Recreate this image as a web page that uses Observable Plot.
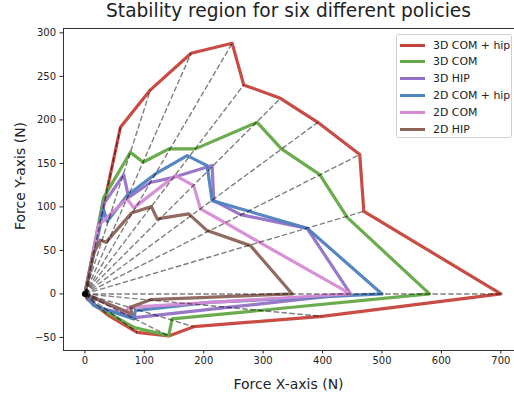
<!DOCTYPE html>
<html>
<head>
<meta charset="utf-8">
<script src="https://cdn.jsdelivr.net/npm/d3@7"></script>
<script src="https://cdn.jsdelivr.net/npm/@observablehq/plot@0.6"></script>
<style>
  html, body { margin: 0; padding: 0; background: white; overflow: hidden; }
  #wrap { position: relative; width: 514px; height: 400px; font-family: "DejaVu Sans", sans-serif; color: #222; }
  #title { position: absolute; left: 63px; width: 451px; top: 0px; text-align: center; font-size: 18.6px; }
  #xlabel { position: absolute; left: 63px; width: 451px; top: 376px; text-align: center; font-size: 14px; }
  #ylabel { position: absolute; left: 20px; top: 176px; transform: translate(-50%, -50%) rotate(-90deg); white-space: nowrap; font-size: 14px; }
  #legend { position: absolute; left: 396px; top: 34px; width: 116px; height: 104px; border: 1px solid #d0d0d0; border-radius: 3px; background: rgba(255,255,255,0.85); box-sizing: border-box; }
  .row { position: absolute; left: 3px; height: 14px; display: flex; align-items: center; font-size: 10.9px; white-space: nowrap; }
  .sw { width: 25px; height: 3px; margin-right: 8px; }
</style>
</head>
<body>
<div id="wrap">
  <div id="title">Stability region for six different policies</div>
  <div id="chart"></div>
  <div id="xlabel">Force X-axis (N)</div>
  <div id="ylabel">Force Y-axis (N)</div>
  <div id="legend"></div>
</div>
<script>
// Series names and colours (legend order = drawing order)
const seriesNames = ["3D COM + hip", "3D COM", "3D HIP", "2D COM + hip", "2D COM", "2D HIP"];
const seriesColors = ["#c5423a", "#62a845", "#9470c6", "#4e81bf", "#d68ad4", "#8b6358"];

// Vertices of each stability region (N)
const com3dHipX = [0, 59.8, 110.3, 178.8, 247.8, 267.3, 329.1, 391.9, 462.6, 469.4, 700, 399.3, 183.2, 141.1, 87.9, 40.1, 3.7, 0];
const com3dHipY = [0, 191.5, 234.5, 276.6, 288.0, 240.2, 224.8, 197.2, 160.1, 94.9, 0, -25.7, -37.6, -48.3, -44.1, -24.9, -5.7, 0];

const com3dX = [0, 31.6, 76.6, 98.0, 141.1, 186.0, 289.9, 330.8, 395.3, 441.4, 580, 293.3, 146.8, 141.1, 83.3, 17.7, 0];
const com3dY = [0, 110.7, 162.8, 151.3, 166.7, 166.7, 197.2, 166.7, 137.1, 88.0, 0, -19.0, -28.7, -47.9, -38.7, -13.4, 0];

const hip3dX = [0, 31.6, 65.3, 73.7, 110.0, 149.5, 214.1, 216.8, 261.8, 374.1, 447, 240.0, 87.9, 20.5, 0];
const hip3dY = [0, 103.4, 137.0, 111.0, 128.0, 134.0, 147.5, 107.2, 91.1, 75.4, 0, -15.5, -26.9, -15.4, 0];

const com2dHipX = [0, 31.6, 37.4, 71.0, 118.7, 172.1, 205.7, 214.1, 274.7, 374.1, 500, 208.6, 85.0, 82.2, 14.8, 0];
const com2dHipY = [0, 96.6, 83.1, 113.0, 137.9, 159.0, 147.5, 107.2, 95.2, 75.4, 0, -9.7, -19.2, -28.7, -13.4, 0];

const com2dX = [0, 22.7, 42.9, 71.0, 82.2, 152.4, 183.2, 194.4, 235.9, 294.1, 447, 73.8, 68.2, 0];
const com2dY = [0, 78.5, 91.7, 109.2, 98.9, 136.0, 124.5, 97.7, 82.0, 59.2, 0, -15.4, -21.1, 0];

const hip2dX = [0, 14.3, 26.1, 35.4, 78.3, 112.0, 121.5, 174.7, 205.7, 278.6, 349, 110.3, 76.6, 79.5, 0];
const hip2dY = [0, 46.3, 61.8, 59.3, 92.9, 100.3, 86.2, 92.0, 72.8, 55.5, 0, -6.6, -15.4, -23.0, 0];

// Axes
const xTicks = [0, 100, 200, 300, 400, 500, 600, 700];
const yTicks = [-50, 0, 50, 100, 150, 200, 250, 300];
const xDomain = [-36, 723];
const yDomain = [-65, 305];
const origin = {x: 0, y: 0};

const allX = [com3dHipX, com3dX, hip3dX, com2dHipX, com2dX, hip2dX];
const allY = [com3dHipY, com3dY, hip3dY, com2dHipY, com2dY, hip2dY];

const lineData = [];
seriesNames.forEach((name, i) => {
  allX[i].forEach((x, j) => lineData.push({series: name, x, y: allY[i][j], k: j}));
});

// Dashed rays from the origin to each vertex of the outermost region
const rays = com3dHipX.map((x, j) => ({x1: origin.x, y1: origin.y, x2: x, y2: com3dHipY[j]}))
  .filter(d => d.x2 !== 0 || d.y2 !== 0);

const chart = Plot.plot({
  width: 514,
  height: 400,
  marginLeft: 63,
  marginRight: 0,
  marginTop: 28,
  marginBottom: 50,
  style: {fontFamily: "DejaVu Sans", fontSize: "10px", color: "#222", background: "white"},
  x: {domain: xDomain, ticks: xTicks, tickSize: 3.5, tickPadding: 3, label: null},
  y: {domain: yDomain, ticks: yTicks, tickSize: 3.5, tickPadding: 4, label: null},
  color: {domain: seriesNames, range: seriesColors},
  marks: [
    Plot.ruleX([xDomain[0]], {stroke: "#333", strokeWidth: 1}),
    Plot.ruleY([yDomain[0], yDomain[1]], {stroke: "#333", strokeWidth: 1}),
    Plot.line(lineData, {x: "x", y: "y", z: "series", stroke: "series", strokeWidth: 3.2, strokeOpacity: 0.95, strokeLinejoin: "round", curve: "linear"}),
    Plot.link(rays, {x1: "x1", y1: "y1", x2: "x2", y2: "y2", stroke: "black", strokeOpacity: 0.5, strokeWidth: 1.4, strokeDasharray: "5.5,2.4"}),
    Plot.dot([origin], {x: "x", y: "y", r: 3, fill: "black"})
  ]
});
document.getElementById("chart").appendChild(chart);

// Legend
const legend = document.getElementById("legend");
seriesNames.forEach((name, i) => {
  const row = document.createElement("div");
  row.className = "row";
  row.style.top = (3 + i * 16.9) + "px";
  const sw = document.createElement("div");
  sw.className = "sw";
  sw.style.background = seriesColors[i];
  const t = document.createElement("span");
  t.textContent = name;
  row.appendChild(sw);
  row.appendChild(t);
  legend.appendChild(row);
});
</script>
</body>
</html>
